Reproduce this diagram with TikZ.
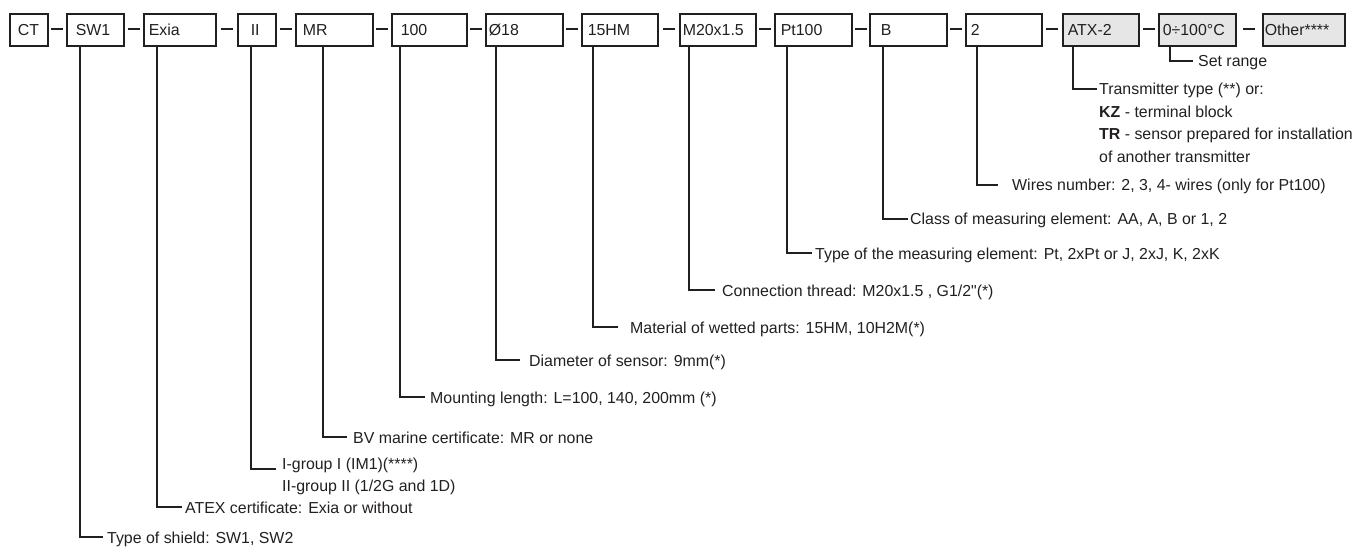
\documentclass[tikz,border=0pt]{standalone}
\usepackage{fontspec}
\setmainfont{Liberation Sans}
\newfontfamily\rawfont{Liberation Sans}
\usetikzlibrary{calc}
\definecolor{ink}{HTML}{231F20}
\definecolor{boxgray}{HTML}{E6E6E6}
\begin{document}
\begin{tikzpicture}[x=1pt,y=-1pt,
  font=\fontsize{15.9}{22.5}\selectfont, color=ink,
  box/.style={draw=ink, line width=1.6pt, anchor=north west, minimum height=32pt,
              inner ysep=0pt, align=left, text height=11.4pt, text depth=0pt},
  opt/.style={box, fill=boxgray},
  sepline/.style={line width=1.6pt},
  lead/.style={line width=1.5pt},
  lbl/.style={anchor=base west, inner sep=0pt}]
\useasboundingbox (0,0) rectangle (1357,548);

% ---- code boxes ----
\node[box, inner xsep=8pt, text width=22pt] (ct)   at (9,13)   {CT};
\node[box, inner xsep=9pt, text width=39pt] (sw)   at (66,13)  {SW1};
\node[box, inner xsep=5pt, text width=62pt] (ex)   at (143,13) {Exia};
\node[box, inner xsep=13pt, text width=12pt] (gr)  at (237,13) {II};
\node[box, inner xsep=7pt, text width=63pt] (mr)   at (295,13) {MR};
\node[box, inner xsep=9pt, text width=57pt] (len)  at (391,13) {100};
\node[box, inner xsep=3pt, text width=71pt] (dia)  at (485,13) {Ø18};
\node[box, inner xsep=6pt, text width=64pt] (mat)  at (581,13) {15HM};
\node[box, inner xsep=3pt, text width=70pt] (thr)  at (679,13) {M20x1.5};
\node[box, inner xsep=6pt, text width=65pt] (typ)  at (774,13) {Pt100};
\node[box, inner xsep=11pt, text width=55pt] (cls) at (869,13) {B};
\node[box, inner xsep=5pt, text width=66pt] (wir)  at (965,13) {2};
\node[opt, inner xsep=5pt, text width=66pt] (atx)  at (1062,13) {ATX-2};
\node[opt, inner xsep=4pt, text width=69pt] (rng)  at (1158,13) {0÷100°C};
\node[opt, inner xsep=2pt, text width=78pt] (oth)  at (1262,13) {Other****};

% ---- separators ----
\foreach \a/\b in {ct/sw, sw/ex, ex/gr, gr/mr, mr/len, len/dia, dia/mat, mat/thr,
                   thr/typ, typ/cls, cls/wir, wir/atx, atx/rng, rng/oth}
  \draw[sepline] ($(\a.east)!.5!(\b.west)+(-6,-1)$) -- ++(12,0);

% ---- leader end points ----
\coordinate (eRng) at (1193,61);
\coordinate (eAtx) at (1097,89);
\coordinate (eWir) at (998,185);
\coordinate (eCls) at (908,219);
\coordinate (eTyp) at (812,253);
\coordinate (eThr) at (715,290);
\coordinate (eMat) at (618,327);
\coordinate (eDia) at (520,360);
\coordinate (eLen) at (425,397);
\coordinate (eMr)  at (347,437);
\coordinate (eGr)  at (276,469);
\coordinate (eEx)  at (182,507);
\coordinate (eSw)  at (103,537);

% ---- leaders ----
\draw[lead] (rng.south -| 1170,0) |- (eRng);
\draw[lead] (atx.south -| 1073,0) |- (eAtx);
\draw[lead] (wir.south -| 977,0)  |- (eWir);
\draw[lead] (cls.south -| 883,0)  |- (eCls);
\draw[lead] (typ.south -| 787,0)  |- (eTyp);
\draw[lead] (thr.south -| 689,0)  |- (eThr);
\draw[lead] (mat.south -| 593,0)  |- (eMat);
\draw[lead] (dia.south -| 496,0)  |- (eDia);
\draw[lead] (len.south -| 400,0)  |- (eLen);
\draw[lead] (mr.south -| 323,0)   |- (eMr);
\draw[lead] (gr.south -| 251,0)   |- (eGr);
\draw[lead] (ex.south -| 157,0)   |- (eEx);
\draw[lead] (sw.south -| 80,0)    |- (eSw);

% ---- labels ----
\node[lbl] (tRng) at (1198,67) {Set range};
\node[lbl] (tAtx1) at (1099,95) {Transmitter type (**) or:};
\node[lbl] (tAtx2) at (1099,117.5) {\textbf{KZ} - terminal block};
\node[lbl] (tAtx3) at (1099,140) {\textbf{TR} - sensor prepared for installation};
\node[lbl] (tAtx4) at (1099,162.5) {of another transmitter};
\node[lbl] (tWir) at (1012,191) {Wires number: 2, 3, 4- wires (only for Pt100)};
\node[lbl] (tCls) at (910,225) {Class of measuring element: AA, A, B or 1, 2};
\node[lbl] (tTyp) at (815,259) {Type of the measuring element: Pt, 2xPt or J, 2xJ, K, 2xK};
\node[lbl] (tThr) at (722,296) {Connection thread: M20x1.5 , G1/2{\rawfont"}(*)};
\node[lbl] (tMat) at (630,333) {Material of wetted parts: 15HM, 10H2M(*)};
\node[lbl] (tDia) at (529,366) {Diameter of sensor: 9mm(*)};
\node[lbl] (tLen) at (430,403) {Mounting length: L=100, 140, 200mm (*)};
\node[lbl] (tMr)  at (353,443) {BV marine certificate: MR or none};
\node[lbl] (tGr1) at (282,469) {I-group I (IM1)(****)};
\node[lbl] (tGr2) at (282,491) {II-group II (1/2G and 1D)};
\node[lbl] (tEx)  at (185,513) {ATEX certificate: Exia or without};
\node[lbl] (tSw)  at (107,543) {Type of shield: SW1, SW2};
\end{tikzpicture}
\end{document}
